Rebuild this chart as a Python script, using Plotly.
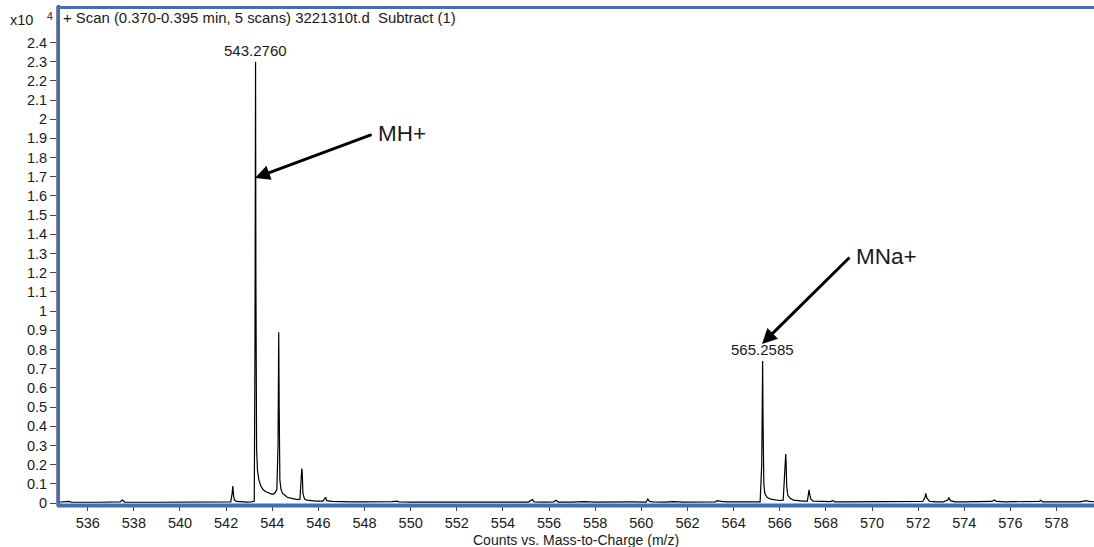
import plotly.graph_objects as go

# Profile spectrum, intensity in units of 10^4 counts
mz = [
    534.70, 535.00, 535.20, 535.30, 535.60, 536.00, 536.50, 537.00, 537.40, 537.50,
    537.60, 538.00, 538.40, 538.50, 539.00, 539.30, 539.60, 539.70, 540.20, 540.80,
    541.00, 541.30, 541.50, 541.90, 542.20, 542.26, 542.29, 542.32, 542.36, 542.45,
    542.60, 542.90, 543.10, 543.22, 543.25, 543.265, 543.276, 543.29, 543.30, 543.32,
    543.36, 543.42, 543.50, 543.60, 543.70, 543.80, 543.90, 544.00, 544.10, 544.20,
    544.25, 544.27, 544.28, 544.30, 544.31, 544.33, 544.38, 544.45, 544.55, 544.65,
    544.80, 544.95, 545.10, 545.20, 545.25, 545.28, 545.30, 545.33, 545.40, 545.50,
    545.70, 545.90, 546.20, 546.28, 546.31, 546.36, 546.60, 547.00, 547.30, 547.50,
    548.00, 548.30, 548.80, 549.20, 549.40, 549.50, 550.00, 550.60, 551.20, 551.60,
    552.00, 552.60, 553.30, 554.00, 554.60, 555.10, 555.28, 555.35, 555.80, 556.20,
    556.30, 556.40, 557.00, 557.50, 558.00, 558.50, 559.00, 559.60, 560.20, 560.28,
    560.35, 560.50, 561.00, 561.40, 561.80, 562.20, 562.80, 563.20, 563.30, 563.45,
    563.70, 564.00, 564.50, 564.90, 565.15, 565.22, 565.245, 565.2585, 565.275, 565.29,
    565.31, 565.35, 565.45, 565.60, 565.80, 566.00, 566.15, 566.22, 566.26, 566.28,
    566.30, 566.35, 566.45, 566.60, 566.80, 567.00, 567.20, 567.25, 567.27, 567.30,
    567.35, 567.45, 567.70, 568.00, 568.20, 568.30, 568.40, 568.80, 569.20, 569.60,
    570.10, 570.60, 571.00, 571.50, 572.00, 572.20, 572.30, 572.33, 572.38, 572.50,
    572.80, 573.10, 573.28, 573.33, 573.40, 573.60, 574.00, 574.50, 575.00, 575.20,
    575.30, 575.40, 575.80, 576.20, 576.60, 577.00, 577.25, 577.32, 577.40, 578.00,
    578.50, 579.00, 579.30, 579.40, 579.70,
]
counts = [
    0.004, 0.005, 0.008, 0.004, 0.005, 0.004, 0.004, 0.004, 0.006, 0.016,
    0.005, 0.004, 0.007, 0.004, 0.004, 0.004, 0.006, 0.004, 0.004, 0.005,
    0.004, 0.007, 0.004, 0.005, 0.006, 0.050, 0.088, 0.040, 0.015, 0.008,
    0.006, 0.005, 0.006, 0.010, 0.800, 1.800, 2.300, 1.200, 0.500, 0.280,
    0.170, 0.120, 0.090, 0.070, 0.060, 0.055, 0.050, 0.045, 0.050, 0.070,
    0.300, 0.700, 0.890, 0.500, 0.280, 0.120, 0.070, 0.050, 0.040, 0.030,
    0.025, 0.020, 0.018, 0.020, 0.100, 0.180, 0.160, 0.050, 0.020, 0.015,
    0.012, 0.010, 0.010, 0.025, 0.030, 0.012, 0.008, 0.007, 0.008, 0.006,
    0.006, 0.006, 0.006, 0.007, 0.010, 0.006, 0.005, 0.005, 0.006, 0.006,
    0.005, 0.006, 0.006, 0.005, 0.005, 0.005, 0.018, 0.006, 0.005, 0.006,
    0.014, 0.005, 0.005, 0.007, 0.005, 0.006, 0.005, 0.006, 0.005, 0.020,
    0.008, 0.006, 0.005, 0.007, 0.005, 0.006, 0.006, 0.006, 0.012, 0.008,
    0.006, 0.006, 0.005, 0.005, 0.006, 0.200, 0.600, 0.740, 0.450, 0.200,
    0.100, 0.050, 0.030, 0.020, 0.015, 0.013, 0.015, 0.150, 0.255, 0.200,
    0.090, 0.040, 0.025, 0.015, 0.012, 0.010, 0.010, 0.040, 0.068, 0.045,
    0.020, 0.010, 0.008, 0.006, 0.007, 0.012, 0.006, 0.006, 0.006, 0.006,
    0.005, 0.006, 0.005, 0.006, 0.006, 0.008, 0.030, 0.050, 0.025, 0.008,
    0.006, 0.006, 0.015, 0.028, 0.012, 0.006, 0.006, 0.006, 0.006, 0.008,
    0.016, 0.008, 0.006, 0.006, 0.007, 0.006, 0.008, 0.014, 0.006, 0.006,
    0.006, 0.006, 0.012, 0.008, 0.006,
]

# Labelled peaks (m/z, intensity)
peak_labels = ["543.2760", "565.2585"]
peak_mz = [543.276, 565.2585]
peak_counts = [2.300, 0.740]

x_ticks = [536, 538, 540, 542, 544, 546, 548, 550, 552, 554, 556, 558, 560,
           562, 564, 566, 568, 570, 572, 574, 576, 578]
y_ticks = [0, 0.1, 0.2, 0.3, 0.4, 0.5, 0.6, 0.7, 0.8, 0.9, 1.0, 1.1, 1.2,
           1.3, 1.4, 1.5, 1.6, 1.7, 1.8, 1.9, 2.0, 2.1, 2.2, 2.3, 2.4]
y_tick_text = ["0", "0.1", "0.2", "0.3", "0.4", "0.5", "0.6", "0.7", "0.8",
               "0.9", "1", "1.1", "1.2", "1.3", "1.4", "1.5", "1.6", "1.7",
               "1.8", "1.9", "2", "2.1", "2.2", "2.3", "2.4"]

FONT = "Liberation Sans, Arial, sans-serif"
FRAME = "#3c6ec2"
TEXT = "#1a1a1a"

W, H = 1094, 547
L, R, T, B = 57, 0, 6, 41
PW, PH = W - L - R, H - T - B

fig = go.Figure()
fig.add_trace(go.Scatter(
    x=mz, y=counts, mode="lines",
    line=dict(color="black", width=1.2),
    hoverinfo="skip", showlegend=False,
))

# peak m/z labels
for lab, px, py in zip(peak_labels, peak_mz, peak_counts):
    fig.add_annotation(x=px, y=py, text=lab, showarrow=False,
                       xanchor="center", yanchor="bottom", yshift=1,
                       font=dict(family=FONT, size=15, color=TEXT))

# ion arrows
arrows = [
    dict(name="MH+", head=(543.25, 1.694), tail=(548.37, 1.923)),
    dict(name="MNa+", head=(565.231, 0.829), tail=(569.09, 1.287)),
]
for a in arrows:
    fig.add_annotation(x=a["head"][0], y=a["head"][1],
                       ax=a["tail"][0], ay=a["tail"][1],
                       axref="x", ayref="y", text="", showarrow=True,
                       arrowhead=2, arrowsize=1.0, arrowwidth=3,
                       arrowcolor="black", standoff=0)
    fig.add_annotation(x=a["tail"][0], y=a["tail"][1], text=a["name"],
                       showarrow=False, xanchor="left", yanchor="middle",
                       xshift=3, font=dict(family=FONT, size=22.5, color=TEXT))

# scan description inside the frame
fig.add_annotation(xref="paper", yref="paper", x=4 / PW, y=1 - 12 / PH,
                   text="+ Scan (0.370-0.395 min, 5 scans) 3221310t.d\u00a0\u00a0Subtract (1)",
                   showarrow=False, xanchor="left", yanchor="middle",
                   font=dict(family=FONT, size=14.9, color=TEXT))

# y scale multiplier
fig.add_annotation(xref="paper", yref="paper", x=-49 / PW, y=1 - 14 / PH,
                   text="x10", showarrow=False, xanchor="left", yanchor="middle",
                   font=dict(family=FONT, size=14.5, color=TEXT))
fig.add_annotation(xref="paper", yref="paper", x=-12 / PW, y=1 - 10 / PH,
                   text="4", showarrow=False, xanchor="left", yanchor="middle",
                   font=dict(family=FONT, size=10.5, color=TEXT))

# x axis title, placed below the tick labels
fig.add_annotation(xref="paper", yref="paper", x=0.5, y=-(540 - (H - B)) / PH,
                   text="Counts vs. Mass-to-Charge (m/z)", showarrow=False,
                   xanchor="center", yanchor="middle",
                   font=dict(family=FONT, size=14, color=TEXT))

# blue frame: left, top, bottom
fig.add_shape(type="line", xref="paper", yref="paper",
              x0=1.5 / PW, x1=1.5 / PW, y0=-1 / PH, y1=1 + 1 / PH,
              line=dict(color=FRAME, width=3))
fig.add_shape(type="line", xref="paper", yref="paper",
              x0=0, x1=1, y0=1 - 1.5 / PH, y1=1 - 1.5 / PH,
              line=dict(color=FRAME, width=3))
fig.add_shape(type="line", xref="paper", yref="paper",
              x0=0, x1=1, y0=0.5 / PH, y1=0.5 / PH,
              line=dict(color=FRAME, width=4))

y_per_px = 1 / 191.9
fig.update_layout(
    width=W, height=H,
    margin=dict(l=L, r=R, t=T, b=B, pad=0),
    paper_bgcolor="white", plot_bgcolor="white",
    font=dict(family=FONT, color=TEXT),
    xaxis=dict(
        range=[534.668, 534.668 + PW / 23.067],
        tickvals=x_ticks, ticktext=[str(v) for v in x_ticks],
        ticks="outside", ticklen=4, tickcolor="#444", tickwidth=1,
        showgrid=False, zeroline=False, showline=False,
        tickfont=dict(family=FONT, size=14.5, color=TEXT),
    ),
    yaxis=dict(
        range=[-3 * y_per_px, 497 * y_per_px],
        tickvals=y_ticks, ticktext=y_tick_text,
        ticks="outside", ticklen=6, tickcolor="#444", tickwidth=1,
        showgrid=False, zeroline=False, showline=True,
        linecolor="#888", linewidth=1,
        tickfont=dict(family=FONT, size=14.5, color=TEXT),
    ),
)

fig.write_html("out.html")
